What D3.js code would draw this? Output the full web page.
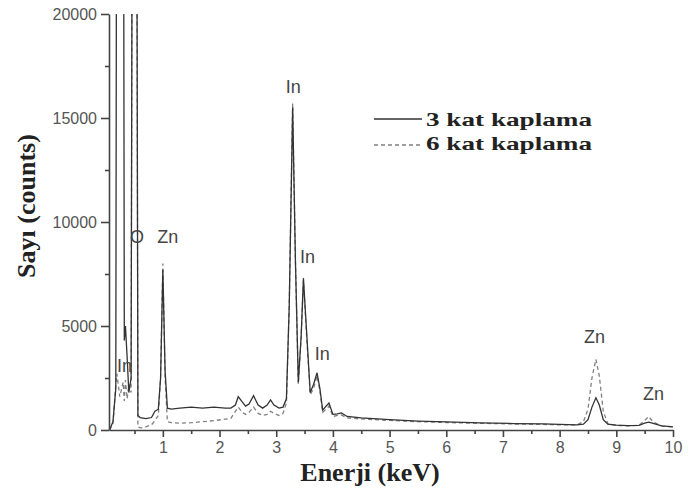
<!DOCTYPE html>
<html>
<head>
<meta charset="utf-8">
<script src="https://cdn.jsdelivr.net/npm/d3@7"></script>
<style>
  body { margin: 0; background: #fff; }
  svg { display: block; }
</style>
</head>
<body>
<div id="chart"></div>
<script>
// EDS spectrum: 3 kat vs 6 kat kaplama

// energy grid (keV)
var energy = [0.06, 0.12, 0.17, 0.19, 0.24, 0.30, 0.32, 0.34, 0.37, 0.40, 0.44, 0.47, 0.50, 0.53, 0.56,
  0.60, 0.70, 0.80, 0.86, 0.92, 0.96, 1.00, 1.04, 1.08, 1.15, 1.30, 1.50, 1.70, 1.90, 2.10, 2.20,
  2.28, 2.33, 2.40, 2.46, 2.52, 2.60, 2.68, 2.76, 2.84, 2.90, 2.96, 3.05, 3.12, 3.18, 3.23, 3.29,
  3.34, 3.39, 3.44, 3.48, 3.53, 3.60, 3.66, 3.72, 3.77, 3.82, 3.88, 3.93, 4.00, 4.08, 4.15, 4.25,
  4.50, 5.00, 5.50, 6.00, 6.60, 7.20, 7.70, 8.00, 8.30, 8.42, 8.50, 8.57, 8.64, 8.70, 8.77, 8.85,
  9.00, 9.20, 9.40, 9.50, 9.57, 9.65, 9.80, 10.00];

// counts, 3 kat kaplama (solid)
var kat3 = [0, 400, 2000, 40000, 42000, 40000, 4300, 5000, 3500, 1800, 2500, 40000, 45000, 40000, 700,
  600, 550, 600, 900, 1000, 2500, 7700, 2800, 1050, 1000, 1050, 1100, 1050, 1100, 1050, 1050,
  1200, 1600, 1350, 1150, 1250, 1650, 1200, 1050, 1200, 1450, 1200, 1050, 1100, 1500, 6000, 15500,
  8000, 2300, 4500, 7300, 5000, 1800, 2200, 2750, 2000, 950, 1150, 1300, 750, 780, 820, 650,
  580, 500, 430, 390, 340, 310, 290, 270, 250, 280, 500, 1100, 1550, 1200, 500, 280,
  230, 210, 220, 330, 380, 320, 200, 150];

// counts, 6 kat kaplama (dashed)
var kat6 = [0, 300, 2200, 2700, 1600, 2300, 1400, 2400, 1500, 2200, 1800, 40000, 45000, 40000, 150,
  100, 150, 250, 450, 700, 2500, 8000, 2500, 400, 350, 330, 350, 400, 450, 520, 560,
  900, 1100, 850, 750, 850, 1100, 800, 700, 750, 900, 800, 700, 800, 1300, 6000, 15700,
  8000, 2200, 4500, 7200, 4800, 1700, 2000, 2600, 1900, 850, 1000, 1150, 650, 700, 720, 580,
  530, 460, 400, 360, 320, 290, 270, 250, 240, 400, 1000, 2500, 3400, 2600, 900, 300,
  220, 200, 230, 450, 650, 380, 200, 150];

var seriesNames = ["3 kat kaplama", "6 kat kaplama"];
var xTicks = [1, 2, 3, 4, 5, 6, 7, 8, 9, 10];
var xMinor = [0.5, 1.5, 2.5, 3.5, 4.5, 5.5, 6.5, 7.5, 8.5, 9.5];
var yTicks = [0, 5000, 10000, 15000, 20000];
var yMinor = [2500, 7500, 12500, 17500];

// element labels (anchored in data units)
var peakLabels = ["In", "O", "Zn", "In", "In", "In", "Zn", "Zn"];
var peakLabelE = [0.19, 0.42, 0.90, 3.17, 3.42, 3.68, 8.43, 9.47];
var peakLabelC = [2790, 8990, 8990, 16200, 8030, 3370, 4180, 1440];

var width = 700, height = 488;
var plotLeft = 109, plotRight = 673, plotTop = 14, plotBottom = 430;

var x = d3.scaleLinear().domain([0.05, 10]).range([plotLeft, plotRight]);
var y = d3.scaleLinear().domain([0, 20000]).range([plotBottom, plotTop]);

var svg = d3.select("#chart").append("svg")
  .attr("width", width)
  .attr("height", height);

svg.append("clipPath").attr("id", "plotclip")
  .append("rect")
  .attr("x", plotLeft).attr("y", plotTop)
  .attr("width", plotRight - plotLeft + 2).attr("height", plotBottom - plotTop);

var spectrum = d3.line()
  .x(function(d, i) { return x(energy[i]); })
  .y(function(d) { return y(d); });

var plot = svg.append("g").attr("clip-path", "url(#plotclip)");

plot.append("path")
  .datum(kat6)
  .attr("d", spectrum)
  .attr("fill", "none")
  .attr("stroke", "#808080")
  .attr("stroke-width", 1.3)
  .attr("stroke-dasharray", "4,3");

plot.append("path")
  .datum(kat3)
  .attr("d", spectrum)
  .attr("fill", "none")
  .attr("stroke", "#333")
  .attr("stroke-width", 1.3);

// axes
var tickFont = "'Liberation Sans', Arial, sans-serif";

svg.append("g")
  .attr("transform", "translate(0," + plotBottom + ")")
  .call(d3.axisBottom(x).tickValues(xTicks).tickSize(7).tickSizeOuter(0).tickPadding(5).tickFormat(d3.format("d")));
svg.append("g")
  .attr("transform", "translate(0," + plotBottom + ")")
  .call(d3.axisBottom(x).tickValues(xMinor).tickSize(4).tickFormat(""))
  .select(".domain").remove();

svg.append("g")
  .attr("transform", "translate(" + plotLeft + ",0)")
  .call(d3.axisLeft(y).tickValues(yTicks).tickSize(8).tickSizeOuter(0).tickPadding(4).tickFormat(d3.format("d")));
svg.append("g")
  .attr("transform", "translate(" + plotLeft + ",0)")
  .call(d3.axisLeft(y).tickValues(yMinor).tickSize(4).tickFormat(""))
  .select(".domain").remove();

svg.selectAll(".domain, .tick line")
  .attr("stroke", "#444")
  .attr("stroke-width", 1.6);
svg.selectAll(".tick text")
  .attr("fill", "#555")
  .style("font-family", tickFont)
  .style("font-size", "16px");

// axis titles
svg.append("text")
  .attr("x", 370)
  .attr("y", 481)
  .attr("text-anchor", "middle")
  .style("font-family", "'Liberation Serif', 'Times New Roman', serif")
  .style("font-weight", "bold")
  .style("font-size", "26px")
  .attr("fill", "#222")
  .text("Enerji (keV)");

svg.append("text")
  .attr("transform", "translate(35,206) rotate(-90)")
  .attr("text-anchor", "middle")
  .style("font-family", "'Liberation Serif', 'Times New Roman', serif")
  .style("font-weight", "bold")
  .style("font-size", "26px")
  .attr("fill", "#222")
  .text("Sayı (counts)");

// peak labels
svg.selectAll(".peak")
  .data(peakLabels)
  .enter()
  .append("text")
  .attr("class", "peak")
  .attr("x", function(d, i) { return x(peakLabelE[i]); })
  .attr("y", function(d, i) { return y(peakLabelC[i]); })
  .style("font-family", tickFont)
  .style("font-size", "18px")
  .attr("fill", "#444")
  .text(function(d) { return d; });

// legend
var legend = svg.append("g").attr("transform", "translate(374,0)");
var legendY = [119, 145];
var legendTextY = [126, 150];
seriesNames.forEach(function(name, i) {
  legend.append("line")
    .attr("x1", 0).attr("x2", 48)
    .attr("y1", legendY[i]).attr("y2", legendY[i])
    .attr("stroke", i === 0 ? "#333" : "#808080")
    .attr("stroke-width", 1.3)
    .attr("stroke-dasharray", i === 0 ? null : "4,3");
  legend.append("text")
    .attr("x", 52)
    .attr("y", legendTextY[i])
    .attr("textLength", 166)
    .attr("lengthAdjust", "spacingAndGlyphs")
    .style("font-family", "'Liberation Serif', 'Times New Roman', serif")
    .style("font-weight", "bold")
    .style("font-size", "19px")
    .attr("fill", "#222")
    .text(name);
});
</script>
</body>
</html>
